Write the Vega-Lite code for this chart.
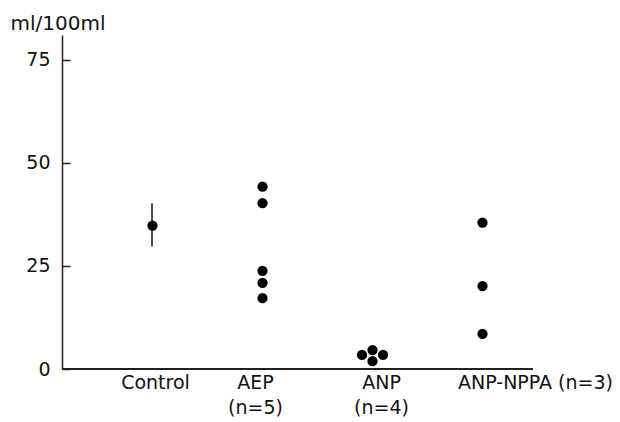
{
  "$schema": "https://vega.github.io/schema/vega-lite/v6.json",
  "autosize": "none",
  "width": 471,
  "height": 334,
  "padding": {"left": 62, "top": 35, "right": 87, "bottom": 53},
  "background": "white",
  "config": {
    "view": {"stroke": null},
    "font": "DejaVu Sans",
    "axis": {"grid": false, "labelFont": "DejaVu Sans", "titleFont": "DejaVu Sans", "labelColor": "#111", "titleColor": "#111", "domainColor": "#222", "tickColor": "#222"}
  },
  "data": {
    "values": [
      {"group": "Control", "value": 34.8, "lo": 29.7, "hi": 40.2, "j": "C"},
      {"group": "AEP", "value": 44.2, "j": "C"},
      {"group": "AEP", "value": 40.2, "j": "C"},
      {"group": "AEP", "value": 23.8, "j": "C"},
      {"group": "AEP", "value": 20.9, "j": "C"},
      {"group": "AEP", "value": 17.2, "j": "C"},
      {"group": "ANP", "value": 3.4, "j": "L"},
      {"group": "ANP", "value": 4.6, "j": "C"},
      {"group": "ANP", "value": 3.4, "j": "R"},
      {"group": "ANP", "value": 1.9, "j": "C"},
      {"group": "ANP-NPPA", "value": 35.5, "j": "C"},
      {"group": "ANP-NPPA", "value": 20.1, "j": "C"},
      {"group": "ANP-NPPA", "value": 8.5, "j": "C"}
    ]
  },
  "encoding": {
    "x": {
      "field": "group",
      "type": "nominal",
      "sort": ["Control", "AEP", "ANP", "ANP-NPPA"],
      "scale": {"type": "point", "domain": ["Control", "AEP", "ANP", "ANP-NPPA"], "range": [90, 420], "padding": 0},
      "axis": {
        "title": null,
        "ticks": false,
        "domain": false,
        "labelAngle": 0,
        "labelFontSize": 19,
        "labelBaseline": "top",
        "labelPadding": 4,
        "labelLineHeight": 25,
        "labelExpr": "datum.value === 'AEP' ? ['AEP', '(n=5)'] : datum.value === 'ANP' ? ['ANP', '(n=4)'] : datum.value === 'ANP-NPPA' ? 'ANP-NPPA (n=3)' : datum.value",
        "labelOffset": {"expr": "datum.value === 'ANP-NPPA' ? 53 : datum.value === 'ANP' ? 9 : datum.value === 'AEP' ? -7 : 3"}
      }
    },
    "y": {
      "field": "value",
      "type": "quantitative",
      "scale": {"domain": [0, 81], "nice": false, "zero": true},
      "axis": {
        "values": [0, 25, 50, 75],
        "title": "ml/100ml",
        "titleAngle": 0,
        "titleAlign": "left",
        "titleBaseline": "alphabetic",
        "titleX": -52,
        "titleY": -6,
        "titleFontSize": 20,
        "titleFontWeight": "normal",
        "labelFontSize": 19,
        "tickSize": -8,
        "tickWidth": 1.5,
        "domainWidth": 1.5,
        "labelPadding": 20
      }
    }
  },
  "layer": [
    {
      "mark": {"type": "rule", "color": "#222", "strokeWidth": 1.5},
      "encoding": {"y": {"datum": 0}, "x": null}
    },
    {
      "transform": [{"filter": "datum.group === 'Control'"}],
      "mark": {"type": "rule", "color": "#111", "strokeWidth": 1.5},
      "encoding": {"y": {"field": "lo", "type": "quantitative"}, "y2": {"field": "hi"}}
    },
    {
      "mark": {"type": "circle", "color": "#000", "opacity": 1, "size": 105},
      "encoding": {
        "xOffset": {"field": "j", "type": "nominal", "scale": {"type": "point", "domain": ["L", "C", "R"], "range": [-10, 11], "padding": 0}}
      }
    }
  ]
}
